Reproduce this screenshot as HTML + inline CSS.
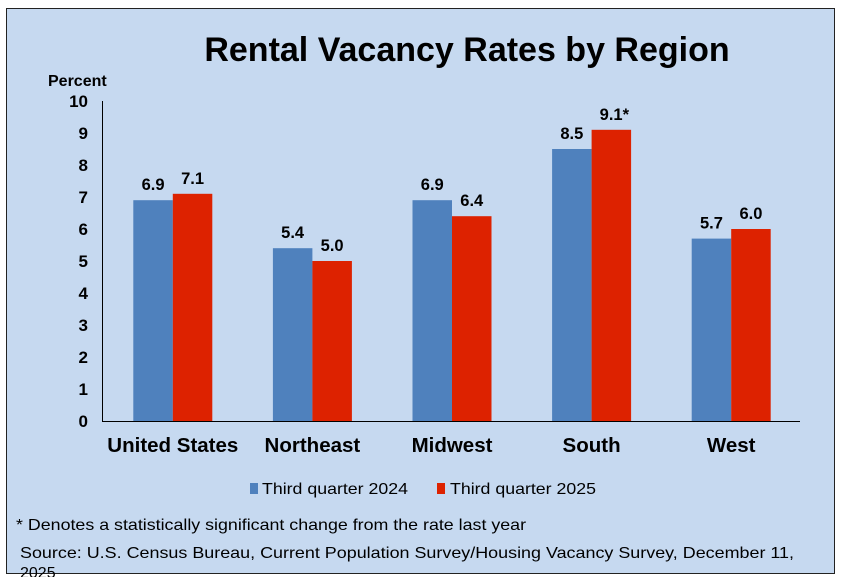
<!DOCTYPE html>
<html><head><meta charset="utf-8"><style>
body{margin:0;background:#fff;}
svg{display:block;font-family:"Liberation Sans",Arial,sans-serif;}
</style></head><body>
<svg id="chart" width="841" height="577" viewBox="0 0 841 577" xmlns="http://www.w3.org/2000/svg">
<rect x="6.5" y="8.5" width="828" height="565" fill="#c6d9f0" stroke="#222" stroke-width="1"/>
<text x="467" y="61" text-anchor="middle" font-size="34" font-weight="bold" fill="#000">Rental Vacancy Rates by Region</text>
<text x="48" y="86" font-size="16" font-weight="bold">Percent</text>
<g id="yticks"></g>
<g id="bars"></g>
<line x1="102.5" y1="101" x2="102.5" y2="422" stroke="#000"/>
<line x1="102" y1="421.5" x2="800" y2="421.5" stroke="#000"/>
<g id="xlabels"></g>
<g>
<rect x="250" y="483" width="8" height="11" fill="#4f81bd"/>
<text x="262" y="494" font-size="16" textLength="146" lengthAdjust="spacingAndGlyphs">Third quarter 2024</text>
<rect x="437" y="483" width="8" height="11" fill="#dd2200"/>
<text x="450" y="494" font-size="16" textLength="146" lengthAdjust="spacingAndGlyphs">Third quarter 2025</text>
</g>
<text x="16" y="530" font-size="16" textLength="510" lengthAdjust="spacingAndGlyphs">* Denotes a statistically significant change from the rate last year</text>
<text x="20" y="558" font-size="16" textLength="774" lengthAdjust="spacingAndGlyphs">Source: U.S. Census Bureau, Current Population Survey/Housing Vacancy Survey, December 11,</text>
<text x="20" y="578" font-size="16">2025</text>
</svg>
<script>
const categories=["United States","Northeast","Midwest","South","West"];
const values2024=[6.9,5.4,6.9,8.5,5.7];
const values2025=[7.1,5.0,6.4,9.1,6.0];
const labels2024=["6.9","5.4","6.9","8.5","5.7"];
const labels2025=["7.1","5.0","6.4","9.1*","6.0"];
const yTicks=[0,1,2,3,4,5,6,7,8,9,10];
const NS="http://www.w3.org/2000/svg";
const x0=102,x1=800,y0=421,yTop=101,yMax=10;
const y=v=>y0-(v/yMax)*(y0-yTop);
const band=(x1-x0)/categories.length;
const bw=39.5;
function mk(t,a,p){const e=document.createElementNS(NS,t);for(const k in a)e.setAttribute(k,a[k]);p.appendChild(e);return e;}
const yt=document.getElementById('yticks');
yTicks.forEach(v=>{const t=mk('text',{x:88,y:y(v)+6,'text-anchor':'end','font-size':17,'font-weight':'bold'},yt);t.textContent=v;

});
const bg=document.getElementById('bars'),xl=document.getElementById('xlabels');
categories.forEach((c,i)=>{
 const cx=x0+band*(i+0.5)+1;
 const b1=mk('rect',{x:cx-bw,y:y(values2024[i]),width:bw,height:y0-y(values2024[i]),fill:'#4f81bd'},bg);
 
 
 const b2=mk('rect',{x:cx,y:y(values2025[i]),width:bw,height:y0-y(values2025[i]),fill:'#dd2200'},bg);
 
 
 const l1=mk('text',{x:cx-bw/2,y:y(values2024[i])-10,'text-anchor':'middle','font-size':16.5,'font-weight':'bold'},bg);l1.textContent=labels2024[i];
 
 
 const l2=mk('text',{x:cx+bw/2+(labels2025[i].length>3?3:0),y:y(values2025[i])-10,'text-anchor':'middle','font-size':16.5,'font-weight':'bold'},bg);l2.textContent=labels2025[i];
 
 
 const xt=mk('text',{x:cx,y:452,'text-anchor':'middle','font-size':20.5,'font-weight':'bold'},xl);xt.textContent=c;
 
 
});
</script>
</body></html>
